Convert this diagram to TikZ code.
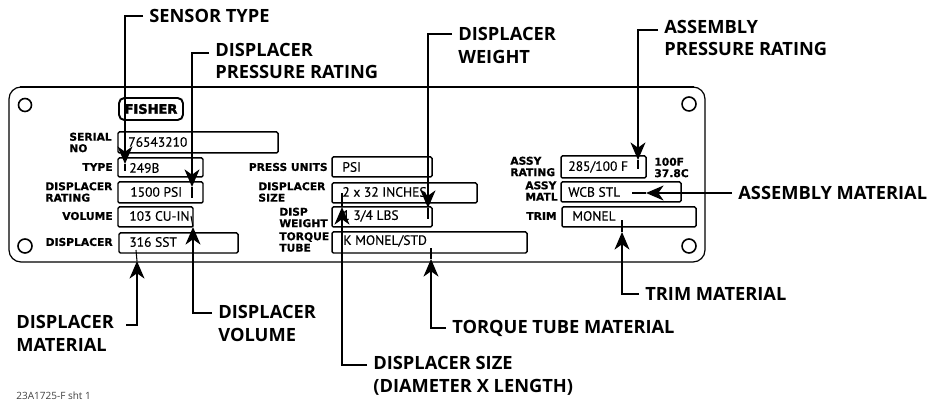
\documentclass[tikz,border=0pt]{standalone}
\usepackage{fontspec}
\setmainfont{Open Sans}
\newfontfamily\fieldfont[FakeBold=0.25]{PT Sans}
\newfontfamily\platefont[FakeBold=0.6]{DejaVu Sans}
\newfontfamily\logofont[FakeBold=2.5]{DejaVu Sans}
\usetikzlibrary{arrows.meta}

\begin{document}
\begin{tikzpicture}[x=0.02cm,y=-0.02cm,
    callout/.style={font=\fontsize{10.4}{12.8}\selectfont\bfseries,align=left,inner ysep=0pt,inner xsep=3.4pt},
    fieldtext/.style={font=\fieldfont\fontsize{7.7}{9}\selectfont,inner sep=0pt},
    platetext/.style={font=\platefont\fontsize{6.1}{6.5}\selectfont\bfseries,align=left,inner sep=0pt},
    fieldbox/.style={line width=0.85pt,rounded corners=0.8pt},
    leader/.style={line width=1.1pt,-{Stealth[length=10pt,width=8.5pt,inset=3pt]}},
    tail/.style={line width=0.6pt},
    hole/.style={line width=0.9pt}]
        \useasboundingbox (0,0) rectangle (929,401);
        % plate
        \draw[line width=0.7pt,rounded corners=0.24cm] (9,87) rectangle (705,262);
        \draw[line width=1.1pt] (20,87) -- (694,87);
        \draw[hole] (25,105) circle (6.5);
        \draw[hole] (689,104) circle (7);
        \draw[hole] (25,246) circle (7);
        \draw[hole] (689,246) circle (7);
        \draw[line width=1.1pt,rounded corners=3pt] (119,98) rectangle (183,120);
        \node[font=\logofont\fontsize{7.4}{8}\selectfont\bfseries,inner sep=0pt] (fisher) at (151,109) {FISHER};
        % field boxes
        \draw[fieldbox] (118,132) rectangle (278,153);
        \draw[fieldbox] (118,158) rectangle (203,177);
        \draw[fieldbox] (118,182) rectangle (203,203);
        \draw[fieldbox] (118,207) rectangle (193,227);
        \draw[fieldbox] (119,233) rectangle (238,253);
        \draw[fieldbox] (332,157) rectangle (432,177);
        \draw[fieldbox] (332,183) rectangle (477,203);
        \draw[fieldbox] (332,207) rectangle (432,227);
        \draw[fieldbox] (332,232) rectangle (527,253);
        \draw[fieldbox] (561,156) rectangle (646,178);
        \draw[fieldbox] (561,182) rectangle (681,202);
        \draw[fieldbox] (562,207) rectangle (696,227);
        % field values
        \node[fieldtext,anchor=west] (serialval) at (128,142) {76543210};
        \node[fieldtext,anchor=west] (typeval) at (129,168) {249B};
        \node[fieldtext,anchor=west] (ratingval) at (130,192) {1500 PSI};
        \node[fieldtext,anchor=west] (volumeval) at (129,216) {103 CU-IN};
        \node[fieldtext,anchor=west] (materialval) at (129,242) {316 SST};
        \node[fieldtext,anchor=west] (unitsval) at (342,167) {PSI};
        \node[fieldtext,anchor=west] (sizeval) at (342,192) {2 x 32 INCHES};
        \node[fieldtext,anchor=west] (weightval) at (342,216) {1 3/4 LBS};
        \node[fieldtext,anchor=west] (tubeval) at (343,241) {K MONEL/STD};
        \node[fieldtext,anchor=west] (assyratingval) at (568,167) {285/100 F};
        \node[fieldtext,anchor=west] (assymatlval) at (568,192) {WCB STL};
        \node[fieldtext,anchor=west] (trimval) at (572,216) {MONEL};
        % plate captions
        \node[platetext,anchor=west] (seriallab) at (69,142.5) {SERIAL\\NO};
        \node[platetext,anchor=east] (typelab) at (113,167) {TYPE};
        \node[platetext,anchor=west] (ratinglab) at (45,192) {DISPLACER\\RATING};
        \node[platetext,anchor=east] (volumelab) at (113,216) {VOLUME};
        \node[platetext,anchor=east] (materiallab) at (113,242) {DISPLACER};
        \node[platetext,anchor=east] (unitslab) at (328,167) {PRESS UNITS};
        \node[platetext,anchor=west] (sizelab) at (258,192) {DISPLACER\\SIZE};
        \node[platetext,anchor=west] (weightlab) at (279,217.5) {DISP\\WEIGHT};
        \node[platetext,anchor=west] (tubelab) at (279,242) {TORQUE\\TUBE};
        \node[platetext,anchor=west] (assyratinglab) at (510,166.5) {ASSY\\RATING};
        \node[platetext,anchor=west] (assymatllab) at (525,191) {ASSY\\MATL};
        \node[platetext,anchor=east] (trimlab) at (557,216) {TRIM};
        \node[platetext,anchor=west] (templab) at (654,167.5) {100F\\37.8C};
        % callouts
        \node[callout,anchor=west] (sensortype) at (143,16) {SENSOR TYPE};
        \node[callout,anchor=west] (dispressure) at (209,61) {DISPLACER\\PRESSURE RATING};
        \node[callout,anchor=west] (dispweight) at (452,45.5) {DISPLACER\\WEIGHT};
        \node[callout,anchor=west] (assypressure) at (658,38) {ASSEMBLY\\PRESSURE RATING};
        \node[callout,anchor=west] (assymaterial) at (732,193) {ASSEMBLY MATERIAL};
        \node[callout,anchor=west] (trimmaterial) at (639,294) {TRIM MATERIAL};
        \node[callout,anchor=west] (tubematerial) at (446,328) {TORQUE TUBE MATERIAL};
        \node[callout,anchor=west] (dispsize) at (367,376) {DISPLACER SIZE\\(DIAMETER X LENGTH)};
        \node[callout,anchor=west] (dispvolume) at (212,323.5) {DISPLACER\\VOLUME};
        \node[callout,anchor=west] (dispmaterial) at (10,333.5) {DISPLACER\\MATERIAL};
        \node[font=\fontsize{5.7}{7}\selectfont,anchor=west,inner sep=0pt,text=black!75] (sheetno) at (16,396) {23A1725-F sht 1};
        % leaders
        \coordinate (sensortip) at (125,164);
        \coordinate (sensorend) at (125,171);
        \draw[leader] (sensortype.west) -| (sensortip);
        \draw[tail] (sensortip) -- (sensorend);
        \coordinate (pressuretip) at (192,187);
        \coordinate (pressureend) at (192,198);
        \draw[leader] ([yshift=4.5pt]dispressure.west) -| (pressuretip);
        \draw[tail] (pressuretip) -- (pressureend);
        \coordinate (weighttip) at (428,208);
        \coordinate (weightend) at (428,219);
        \draw[leader] ([yshift=6.8pt]dispweight.west) -| (weighttip);
        \draw[tail] (weighttip) -- (weightend);
        \coordinate (assypresstip) at (638,160);
        \coordinate (assypressend) at (638,169);
        \draw[leader] ([yshift=4.5pt]assypressure.west) -| (assypresstip);
        \draw[tail] (assypresstip) -- (assypressend);
        \coordinate (assymattip) at (646,193);
        \coordinate (assymatend) at (632,193);
        \draw[leader] (assymaterial.west) -- (assymattip);
        \draw[tail] (assymattip) -- (assymatend);
        \coordinate (trimtip) at (622,232);
        \coordinate (trimend) at (622,220);
        \draw[leader] (trimmaterial.west) -| (trimtip);
        \draw[tail] (trimtip) -- (trimend);
        \coordinate (tubetip) at (431,259);
        \coordinate (tubeend) at (431,248);
        \draw[leader] (tubematerial.west) -| (tubetip);
        \draw[tail] (tubetip) -- (tubeend);
        \coordinate (sizetip) at (342,207);
        \coordinate (sizeend) at (342,193);
        \draw[leader] ([yshift=6.2pt]dispsize.west) -| (sizetip);
        \draw[tail] (sizetip) -- (sizeend);
        \coordinate (volumetip) at (193,227);
        \coordinate (volumeend) at (191,216);
        \draw[leader] ([yshift=6pt]dispvolume.west) -| (volumetip);
        \draw[tail] (volumetip) -- (volumeend);
        \coordinate (materialtip) at (137,261);
        \coordinate (materialend) at (136,250);
        \draw[leader] ([yshift=4.8pt,xshift=3.5pt]dispmaterial.east) -| (materialtip);
        \draw[tail] (materialtip) -- (materialend);
      \end{tikzpicture}
\end{document}
